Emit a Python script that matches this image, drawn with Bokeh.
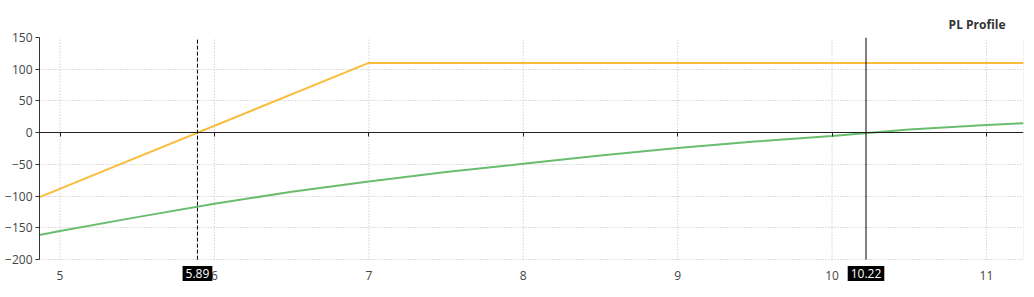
from bokeh.plotting import figure
from bokeh.models import (LinearAxis, Label, Range1d, SingleIntervalTicker,
                          CustomJSTickFormatter)
from bokeh.embed import file_html
from bokeh.resources import INLINE

# ---- data ----
orange_x = [4.867, 7.0, 11.24]
orange_y = [-101.5, 110.0, 110.0]

green_x = [4.867, 5.0, 5.5, 6.0, 6.5, 7.0, 7.5, 8.0, 8.5, 9.0, 9.5, 10.0, 10.5, 11.0, 11.24]
green_y = [-161, -155, -133, -112, -93, -77, -62, -49, -36, -24, -14, -5, 5, 12, 15]

x_ticks = [5, 6, 7, 8, 9, 10, 11]
crossings = [5.89, 10.22]
crossing_dash = ["4 2", "solid"]

x_min, x_max = 4.867, 11.24
y_min, y_max = -200, 150
y_frame_min = -236  # extra room below the axis for the value tags

FONT = "Open Sans"
TXT = "#444444"
GRID = "#bdbdbd"
GRID_DASH = "1 2"

p = figure(width=1034, height=297, x_range=Range1d(x_min, x_max),
           y_range=Range1d(y_frame_min, y_max), output_backend="svg",
           toolbar_location=None, min_border_left=39, min_border_right=11,
           min_border_top=37, min_border_bottom=15, background_fill_color="white",
           border_fill_color="white")

p.title.text = "PL Profile"
p.title.align = "right"
p.title.text_font = FONT
p.title.text_font_size = "12px"
p.title.text_font_style = "bold"
p.title.text_color = "#333333"
p.title.offset = 18

p.outline_line_color = None

# horizontal grid
p.ygrid.ticker = SingleIntervalTicker(interval=50)
p.ygrid.grid_line_color = GRID
p.ygrid.grid_line_dash = GRID_DASH
p.ygrid.grid_line_width = 1
p.xgrid.visible = False

# vertical grid lines + right border limited to the value range
grid_x = x_ticks + [x_max]
p.segment(x0=grid_x, y0=[y_min] * len(grid_x), x1=grid_x, y1=[y_max] * len(grid_x),
          line_color=GRID, line_dash=GRID_DASH, line_width=1)

# x axis (labels only) fixed at the bottom of the value range
xa = p.xaxis[0]
xa.fixed_location = y_min
xa.ticker = SingleIntervalTicker(interval=1)
xa.axis_line_color = None
xa.major_tick_line_color = None
xa.minor_tick_line_color = None
xa.major_label_text_font = FONT
xa.major_label_text_font_size = "12px"
xa.major_label_text_color = TXT
xa.major_label_standoff = 5

# y axis
ya = p.yaxis[0]
ya.bounds = (y_min, y_max)
ya.ticker = SingleIntervalTicker(interval=50)
ya.axis_line_color = "#333333"
ya.major_tick_line_color = "#333333"
ya.major_tick_out = 4
ya.major_tick_in = 0
ya.minor_tick_line_color = None
ya.major_label_text_font = FONT
ya.major_label_text_font_size = "12px"
ya.major_label_text_color = TXT
ya.major_label_standoff = 3

# zero axis with ticks (no labels)
zero_axis = LinearAxis(fixed_location=0, ticker=SingleIntervalTicker(interval=1),
                       axis_line_color="#222222", major_tick_line_color="#222222",
                       major_tick_out=4, major_tick_in=0, minor_tick_line_color=None,
                       formatter=CustomJSTickFormatter(code="return ''"),
                       major_label_standoff=0)
p.add_layout(zero_axis, "below")

# series
p.line(orange_x, orange_y, line_color="#fbbc3c", line_width=2)
p.line(green_x, green_y, line_color="#6abd6e", line_width=2)

# crossing markers
for xv, dash in zip(crossings, crossing_dash):
    p.segment(x0=[xv], y0=[y_min], x1=[xv], y1=[y_max], line_color="black",
              line_width=1, line_dash=dash)
    p.add_layout(Label(x=xv, y=9, y_units="screen", text=f"{xv:.2f}",
                       text_color="white", background_fill_color="black",
                       text_align="center", text_baseline="middle", text_font=FONT,
                       text_font_size="12px", padding=3))

open("out.html", "w").write(file_html(p, INLINE))
